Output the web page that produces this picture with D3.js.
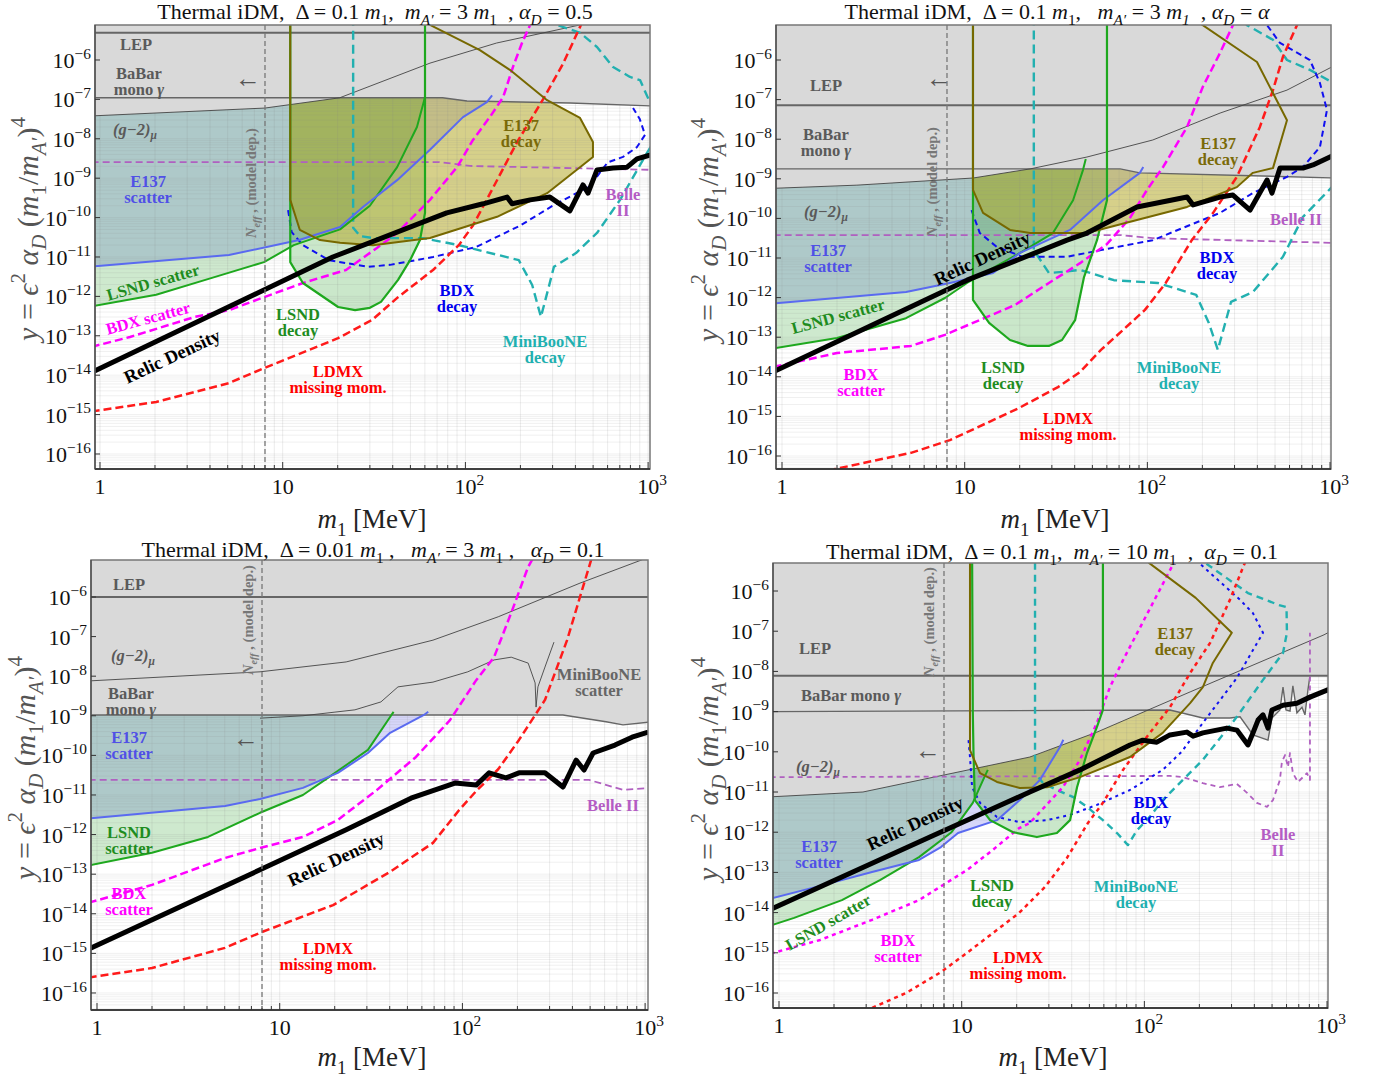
<!DOCTYPE html>
<html><head><meta charset="utf-8">
<script src="https://cdn.jsdelivr.net/npm/d3@7"></script>
<style>body{margin:0;background:#fff}svg{display:block}text{font-family:"Liberation Serif","Times New Roman",serif;white-space:pre}</style>
</head><body><svg id="c" width="1373" height="1078"></svg>
<script>
// ===== DATA: points are [m1 (MeV), log10(y)] =====
const xTickVals = [1, 10, 100, 1000];
const xTickLabels = ["1", "10", "10{sup:2}", "10{sup:3}"];
const yTickExps = [-16, -15, -14, -13, -12, -11, -10, -9, -8, -7, -6];
const nEffMass = 8;

// Panel 1: Delta=0.1 m1, mA'=3 m1, alphaD=0.5
const p1LEP = -5.31;
const p1BaBar = [[0.9,-6.96],[75,-6.96],[102,-7.04],[374,-7.09],[1100,-7.17]];
const p1G2 = [[0.9,-7.42],[8,-7.22],[20.5,-6.96],[64,-6.08],[148,-5.57],[424,-5.11],[600,-4.8]];
const p1Belle = [[0.9,-8.59],[72,-8.59],[106,-8.69],[1100,-8.79]];
const p1Relic = [[0.9,-13.93],[18.8,-11.0],[79,-9.88],[125,-9.65],[169,-9.48],[180,-9.65],[226,-9.55],[290,-9.48],[373,-9.83],[440,-9.17],[469,-9.38],[525,-8.79],[643,-8.74],[767,-8.72],[869,-8.51],[1030,-8.41]];
const p1LDMX = [[0.9,-14.92],[2.03,-14.68],[5.08,-14.2],[7.9,-13.82],[20.1,-13.06],[30.8,-12.6],[42.8,-12.02],[66.5,-11.33],[92,-10.7],[110,-10.2],[136,-9.4],[191,-8.1],[266,-7.0],[342,-6.1],[424,-5.16],[480,-4.6]];
const p1BDXscat = [[0.9,-13.28],[1.46,-13.03],[3.31,-12.52],[5.08,-12.35],[7.9,-12.02],[12.9,-11.66],[22.2,-11.33],[32.8,-10.77],[42.3,-10.39],[64,-9.55],[90,-8.72],[110,-8.03],[136,-7.45],[161,-6.94],[182,-6.18],[204,-5.57],[226,-5.11],[250,-4.6]];
const p1LSNDscat = [[0.9,-12.25],[2.03,-11.96],[4.1,-11.53],[7.9,-11.13],[11.5,-10.7],[20.6,-10.3],[30,-9.7],[42.3,-8.72],[54.3,-7.7],[60,-6.96]];
const p1E137scat = [[0.9,-11.24],[5.08,-10.95],[12.3,-10.57],[20.6,-10.24],[27.5,-9.73],[42.3,-9.05],[64,-8.28],[97,-7.45],[131,-7.07],[140,-6.9]];
const p1LSNDdecay = [[11,-4.9],[11,-11.13],[12.9,-11.66],[20.1,-12.27],[24.9,-12.35],[30,-12.29],[34.5,-12.14],[42.8,-11.58],[49.8,-11.08],[56.4,-10.57],[60.1,-9.88],[60.1,-4.9]];
const p1E137decay = [[11,-4.9],[11,-9.55],[12.4,-10.31],[16,-10.57],[20.6,-10.64],[31.2,-10.7],[64,-10.52],[149,-9.98],[280,-9.38],[499,-8.46],[499,-8.08],[424,-7.47],[280,-7.02],[175,-6.25],[120,-5.75],[64,-5.11],[55,-4.9]];
const p1BDXdecay = [[10.7,-9.81],[11.2,-10.37],[12.9,-10.7],[17.9,-11.08],[29.3,-11.25],[38.7,-11.2],[66.5,-11.0],[114,-10.75],[200,-10.2],[300,-9.7],[480,-9.2],[600,-8.6],[729,-8.46],[869,-8.21],[962,-7.9],[900,-7.5],[827,-7.22]];
const p1MBdecay = [[24.3,-4.9],[24.3,-10.26],[26.5,-10.47],[31.2,-10.52],[58.6,-10.52],[92,-10.7],[196,-11.08],[232,-11.71],[259,-12.52],[283,-11.84],[305,-11.25],[403,-10.9],[525,-10.39],[702,-9.55],[986,-8.36],[1500,-7.0],[1011,-7.02],[903,-6.51],[796,-6.43],[643,-6.18],[525,-5.67],[424,-5.31],[317,-5.11],[290,-4.9]];

// Panel 2: Delta=0.1 m1, mA'=3 m1, alphaD=alpha
const p2LEP = -7.14;
const p2BaBar = [[0.9,-8.75],[71,-8.75],[91,-8.85],[1100,-8.98]];
const p2G2 = [[0.9,-9.24],[2.57,-9.16],[11.1,-8.98],[22.8,-8.75],[46.7,-8.45],[107,-8.02],[250,-7.34],[581,-6.76],[1100,-6.1]];
const p2Belle = [[0.9,-10.42],[71,-10.42],[107,-10.5],[1100,-10.62]];
const p2Relic = [[0.9,-13.87],[10.3,-11.56],[36.3,-10.55],[46.7,-10.37],[87.7,-9.71],[165,-9.46],[178,-9.66],[250,-9.46],[294,-9.41],[365,-9.79],[452,-9.03],[481,-9.36],[532,-8.73],[711,-8.73],[806,-8.65],[1030,-8.42]];
const p2LDMX = [[1.6,-16.6],[1.95,-16.33],[5.08,-15.92],[8.3,-15.6],[19.8,-14.79],[32.4,-14.26],[42.8,-13.88],[55.7,-13.32],[73.5,-12.82],[97,-12.31],[126,-11.63],[175,-10.55],[229,-9.86],[309,-8.95],[413,-7.69],[487,-6.76],[552,-5.92],[659,-5.12],[700,-4.9]];
const p2BDXscat = [[0.9,-13.75],[2,-13.4],[5.08,-13.22],[7.8,-12.94],[18.8,-12.19],[28.9,-11.63],[42.8,-11.13],[60,-10.65],[80,-10.0],[99.5,-9.28],[122,-8.7],[165,-7.69],[201,-6.68],[250,-5.82],[294,-5.12],[320,-4.8]];
const p2LSNDscat = [[0.9,-13.28],[2,-13.02],[4.77,-12.52],[7.8,-12.01],[10.3,-11.63],[13.7,-11.3],[20.1,-10.87],[30.4,-10.37],[39.2,-9.54],[44.4,-8.78],[46,-8.5]];
const p2E137scat = [[0.9,-12.15],[4.77,-11.86],[8.3,-11.63],[14.3,-11.38],[20.1,-10.87],[37.7,-10.29],[57.1,-9.54],[91,-8.85],[95,-8.7]];
const p2LSNDdecay = [[11.1,-4.9],[11.1,-12.06],[13.6,-12.64],[17.7,-13.07],[22.2,-13.22],[28.9,-13.22],[34.1,-13.07],[40.2,-12.57],[45,-11.48],[53,-10.55],[60.1,-9.54],[60.1,-4.9]];
const p2E137decay = [[11.1,-4.9],[11.1,-9.28],[12.6,-9.86],[17.7,-10.29],[22.8,-10.37],[46.7,-10.37],[87.7,-10.04],[165,-9.71],[309,-9.21],[378,-8.85],[487,-8.73],[581,-7.52],[398,-6.05],[201,-5.12],[170,-4.9]];
const p2BDXdecay = [[10.9,-9.79],[12.1,-10.37],[15,-10.72],[20.8,-10.97],[36.3,-10.97],[55.7,-10.8],[107,-10.55],[250,-9.86],[378,-9.36],[581,-8.95],[711,-8.7],[880,-8.2],[962,-7.26],[880,-6.58],[776,-6.0],[532,-5.57],[452,-5.12],[420,-4.9]];
const p2MBdecay = [[23.9,-4.9],[23.9,-10.8],[28.9,-11.38],[34.1,-11.35],[42.8,-11.3],[65.6,-11.56],[114,-11.63],[185,-11.93],[217,-12.64],[243,-13.32],[287,-12.11],[378,-11.86],[552,-10.97],[711,-9.96],[1023,-9.21],[1900,-8.0],[1100,-6.6],[1023,-6.56],[776,-6.25],[581,-6.0],[487,-5.49],[351,-5.12],[320,-4.9]];

// Panel 3: Delta=0.01 m1, mA'=3 m1, alphaD=0.1
const p3LEP = -6.0;
const p3BaBar = [[0.9,-8.98],[355,-8.98],[611,-9.15],[757,-9.23],[1100,-9.15]];
const p3G2 = [[0.9,-8.12],[7.8,-7.89],[23.1,-7.64],[69,-7.09],[157,-6.5],[440,-5.65],[950,-5.07],[1100,-4.95]];
const p3MBscat = [[7.8,-9.06],[13.4,-9.0],[25.8,-8.85],[35.8,-8.65],[44.4,-8.27],[69,-8.15],[107,-7.89],[149,-7.59],[185,-7.52],[229,-7.67],[250,-8.17],[253,-8.78],[259,-8.27],[283,-7.77],[317,-7.14]];
const p3Belle = [[0.9,-10.62],[493,-10.62],[757,-10.87],[1100,-10.82]];
const p3Relic = [[0.9,-14.89],[7.8,-12.89],[23.1,-11.88],[52.3,-11.08],[91,-10.7],[119,-10.75],[140,-10.44],[173,-10.57],[204,-10.44],[283,-10.44],[355,-10.8],[419,-10.12],[463,-10.37],[519,-9.94],[684,-9.74],[848,-9.54],[1040,-9.41]];
const p3LDMX = [[0.9,-15.61],[2,-15.37],[5.02,-14.86],[7.8,-14.48],[19.6,-13.78],[40.2,-12.94],[69,-12.21],[96,-11.38],[119,-10.9],[157,-10.35],[204,-9.61],[283,-8.6],[374,-7.09],[440,-6.0],[506,-5.07],[540,-4.8]];
const p3BDXscat = [[0.9,-13.72],[2,-13.27],[5.02,-12.59],[7.8,-12.34],[13.4,-12.06],[20.8,-11.63],[34.1,-10.87],[55.7,-10.04],[85.5,-9.11],[119,-8.1],[149,-7.52],[185,-6.4],[229,-5.24],[240,-5.07],[260,-4.8]];
const p3LSNDscat = [[0.9,-12.78],[2,-12.46],[4.05,-12.06],[7.8,-11.45],[13.4,-11.0],[18.6,-10.55],[30.4,-9.86],[40.2,-9.03],[42,-8.9]];
const p3E137scat = [[0.9,-11.59],[5.02,-11.28],[7.8,-11.1],[13.4,-10.82],[20.8,-10.44],[30.4,-9.94],[40.2,-9.43],[61.6,-8.98],[65,-8.9]];

// Panel 4: Delta=0.1 m1, mA'=10 m1, alphaD=0.1
const p4LEP = -8.11;
const p4BaBar = [[0.9,-9.0],[138,-8.96],[209,-9.16],[294,-9.16],[334,-9.13],[393,-9.58],[475,-9.71],[499,-9.16],[552,-8.96],[574,-8.39],[596,-8.96],[627,-8.99],[650,-8.36],[684,-9.03],[729,-8.89],[757,-9.08],[786,-8.46],[806,-8.11]];
const p4G2 = [[0.9,-11.12],[2.88,-11.0],[6.7,-10.65],[23.6,-10.13],[55,-9.51],[178,-8.51],[962,-7.09],[1100,-6.95]];
const p4Belle = [[0.9,-10.63],[138,-10.6],[163,-10.63],[209,-10.78],[259,-10.88],[321,-10.8],[365,-11.02],[413,-11.27],[469,-11.37],[506,-11.2],[552,-10.7],[566,-10.25],[589,-10.08],[611,-10.38],[627,-10.03],[650,-10.53],[693,-10.75],[738,-10.63],[776,-10.53],[806,-10.7],[806,-7.04]];
const p4Relic = [[0.9,-13.92],[6.7,-12.12],[23.6,-11.0],[44.4,-10.45],[83.4,-9.83],[98,-9.71],[117,-9.76],[138,-9.58],[171,-9.51],[185,-9.61],[209,-9.53],[283,-9.41],[321,-9.46],[369,-9.83],[393,-9.53],[419,-9.21],[446,-9.08],[475,-9.41],[499,-8.96],[574,-8.84],[684,-8.79],[806,-8.64],[1030,-8.44]];
const p4LDMX = [[3.0,-16.5],[3.23,-16.37],[4.96,-16.0],[7.7,-15.48],[10.7,-15.0],[14.8,-14.51],[20.6,-14.01],[28.6,-13.36],[37.7,-12.64],[49.1,-11.77],[59.3,-11.27],[76.4,-10.45],[103,-9.63],[138,-8.89],[178,-8.04],[229,-7.29],[294,-6.22],[351,-5.35],[380,-5.0]];
const p4BDXscat = [[0.9,-15.02],[1.68,-14.68],[3.23,-14.18],[5.84,-13.69],[10.7,-12.94],[14.8,-12.44],[20.6,-11.9],[23.6,-11.77],[35.8,-10.88],[44.4,-10.2],[55,-9.28],[64.8,-8.39],[76.4,-7.72],[143,-5.35],[155,-5.0]];
const p4LSNDscat = [[0.9,-14.32],[1.21,-14.13],[2.21,-13.69],[3.57,-13.19],[5.84,-12.62],[8.8,-12.0],[11.5,-11.27],[13.1,-10.7],[13.9,-10.45]];
const p4E137scat = [[0.9,-13.65],[1.6,-13.36],[3.23,-12.99],[5.84,-12.69],[7.7,-12.37],[9.55,-12.02],[15.6,-11.7],[20.8,-11.2],[26.8,-10.7],[34.5,-9.88],[36,-9.7]];
const p4LSNDdecay = [[11.4,-5.0],[11.5,-9.0],[11.6,-10.0],[11.8,-11.2],[14.3,-11.7],[19.1,-12.0],[25.8,-12.12],[33.2,-12.02],[39.2,-11.7],[42.8,-10.88],[48.5,-10.03],[55,-9.38],[59.3,-8.96],[59.3,-5.0]];
const p4E137decay = [[11.1,-5.0],[11.1,-9.96],[12.6,-10.53],[15.6,-10.75],[20.8,-10.9],[29.3,-10.88],[44.4,-10.63],[83.4,-10.13],[126,-9.53],[178,-8.79],[209,-8.39],[237,-7.79],[301,-7.04],[191,-6.17],[106,-5.3],[95,-5.0]];
const p4BDXdecay = [[10.9,-9.71],[11.1,-10.13],[11.4,-10.88],[12.6,-11.27],[15.6,-11.62],[20.8,-11.75],[29.3,-11.7],[39.2,-11.57],[55,-11.32],[83.4,-10.95],[126,-10.45],[160,-10.0],[209,-9.28],[321,-8.16],[446,-7.04],[393,-6.55],[334,-6.22],[199,-5.3],[185,-5.0]];
const p4MBdecay = [[25.2,-5.0],[25.2,-10.53],[27.9,-10.78],[33.2,-10.95],[40.6,-11.12],[48.5,-11.37],[59.3,-11.7],[70.8,-12.02],[81.3,-12.32],[91.2,-11.95],[107,-11.62],[126,-11.2],[138,-11.02],[209,-10.2],[321,-9.13],[446,-8.21],[574,-7.54],[603,-7.04],[600,-6.4],[546,-6.35],[369,-6.05],[215,-5.3],[190,-5.0]];

// ===== STYLE / LAYOUT =====
const COL = {gray:'#5a5a5a', e137:'#5050e6', lsnd:'#1e8c1e', bdxs:'#ff00ff', ldmx:'#ff0000', bdxd:'#0000ee', mb:'#1fb0b0', e137d:'#7a6a08', belle:'#b45cc4'};
const LCOL = {e137:'#5a6af0', lsnd:'#1ea81e', e137d:'#776800', mb:'#22b0b0', bdxd:'#1010f0', belle:'#b060c0'};

// label: [text (\n = new line), dx, dy (centre, relative to plot top-left), colour, rotation, size]
const panels = [
 {box:[95,650,25,469], xdom:[0.939,1024], ydom:[-16.381,-5.112], lep:p1LEP, babar:p1BaBar, g2:p1G2, belle:p1Belle, relic:p1Relic, ldmx:p1LDMX, bdxs:p1BDXscat, lsnds:p1LSNDscat, e137s:p1E137scat, lsndd:p1LSNDdecay, e137d:p1E137decay, bdxd:p1BDXdecay, mbd:p1MBdecay, dotted:false,
  title:"Thermal iDM,  Δ = 0.1 {i:m}{sub:1},  {i:m}{isub:A′} = 3 {i:m}{sub:1}  , {i:α}{isub:D} = 0.5", tpos:[375,19], ypos:[27,229], xpos:[372,528], ytx:91,
  labels:[["LEP",41,19,COL.gray],["BaBar\nmono {i:γ}",44,56,COL.gray],["{i:(g−2)}{isub:μ}",40,104,COL.gray],
   ["E137\nscatter",53,164,COL.e137],["LSND scatter",58,257,COL.lsnd,-16],["BDX scatter",53,293,COL.bdxs,-15],["Relic Density",77,331,'#000',-25,18.5],
   ["LSND\ndecay",203,297,COL.lsnd],["LDMX\nmissing mom.",243,354,COL.ldmx],["BDX\ndecay",362,273,COL.bdxd],
   ["MiniBooNE\ndecay",450,324,COL.mb],["E137\ndecay",426,108,COL.e137d],["Belle\nII",528,177,COL.belle]],
  arrow:[153,53], neff:[161,158]},
 {box:[776,1331,25,469], xdom:[0.927,1012], ydom:[-16.328,-5.116], lep:p2LEP, babar:p2BaBar, g2:p2G2, belle:p2Belle, relic:p2Relic, ldmx:p2LDMX, bdxs:p2BDXscat, lsnds:p2LSNDscat, e137s:p2E137scat, lsndd:p2LSNDdecay, e137d:p2E137decay, bdxd:p2BDXdecay, mbd:p2MBdecay, dotted:false,
  title:"Thermal iDM,  Δ = 0.1 {i:m}{sub:1},   {i:m}{isub:A′} = 3 {i:m}{isub:1}  , {i:α}{isub:D} = {i:α}", tpos:[1057,19], ypos:[707,230], xpos:[1055,528], ytx:772,
  labels:[["LEP",50,60,COL.gray],["BaBar\nmono {i:γ}",50,117,COL.gray],["{i:(g−2)}{isub:μ}",50,186,COL.gray],
   ["E137\nscatter",52,233,COL.e137],["LSND scatter",62,291,COL.lsnd,-15],["Relic Density",206,233,'#000',-25,18.5],["BDX\nscatter",85,357,COL.bdxs],
   ["LSND\ndecay",227,350,COL.lsnd],["LDMX\nmissing mom.",292,401,COL.ldmx],["BDX\ndecay",441,240,COL.bdxd],
   ["MiniBooNE\ndecay",403,350,COL.mb],["E137\ndecay",442,126,COL.e137d],["Belle II",520,194,COL.belle]],
  arrow:[163,53], neff:[161,157]},
 {box:[91,648,560,1010], xdom:[0.927,1037], ydom:[-16.43,-5.066], lep:p3LEP, babar:p3BaBar, g2:p3G2, mbs:p3MBscat, belle:p3Belle, relic:p3Relic, ldmx:p3LDMX, bdxs:p3BDXscat, lsnds:p3LSNDscat, e137s:p3E137scat, dotted:false,
  title:"Thermal iDM,  Δ = 0.01 {i:m}{sub:1} ,   {i:m}{isub:A′} = 3 {i:m}{sub:1} ,   {i:α}{isub:D} = 0.1", tpos:[373,557], ypos:[24,768], xpos:[372,1066], ytx:87,
  labels:[["LEP",38,24,COL.gray],["{i:(g−2)}{isub:μ}",42,95,COL.gray],["BaBar\nmono {i:γ}",40,141,COL.gray],
   ["E137\nscatter",38,185,COL.e137],["LSND\nscatter",38,280,COL.lsnd],["BDX\nscatter",38,341,COL.bdxs],
   ["Relic Density",245,299,'#000',-25,18.5],["LDMX\nmissing mom.",237,396,COL.ldmx],["MiniBooNE\nscatter",508,122,'#666'],["Belle II",522,245,COL.belle]],
  arrow:[155,178], neff:[162,60]},
 {box:[773,1328,563,1008], xdom:[0.927,1012], ydom:[-16.373,-5.303], lep:p4LEP, babar:p4BaBar, g2:p4G2, belle:p4Belle, relic:p4Relic, ldmx:p4LDMX, bdxs:p4BDXscat, lsnds:p4LSNDscat, e137s:p4E137scat, lsndd:p4LSNDdecay, e137d:p4E137decay, bdxd:p4BDXdecay, mbd:p4MBdecay, dotted:true,
  title:"Thermal iDM,  Δ = 0.1 {i:m}{sub:1},  {i:m}{isub:A′} = 10 {i:m}{sub:1}  ,  {i:α}{isub:D} = 0.1", tpos:[1052,559], ypos:[707,769], xpos:[1053,1066], ytx:769,
  labels:[["LEP",42,85,COL.gray],["BaBar mono {i:γ}",78,132,COL.gray],["{i:(g−2)}{isub:μ}",45,203,COL.gray],["E137\nscatter",46,291,COL.e137],
   ["Relic Density",142,260,'#000',-25,18.5],["LSND scatter",55,359,COL.lsnd,-30],["BDX\nscatter",125,385,COL.bdxs],["LSND\ndecay",219,330,COL.lsnd],
   ["LDMX\nmissing mom.",245,402,COL.ldmx],["BDX\ndecay",378,247,COL.bdxd],["MiniBooNE\ndecay",363,331,COL.mb],
   ["E137\ndecay",402,78,COL.e137d],["Belle\nII",505,279,COL.belle]],
  arrow:[155,187], neff:[161,59]}
];

const svg = d3.select('#c');

function rich(t, str, base){
  const re=/\{(\w+):([^}]*)\}/g; let last=0, m, shift=0;
  const add=(s,kind)=>{ if(!s) return; const ts=t.append('tspan').text(s);
    let target=0;
    if(kind==='sub'||kind==='isub') target=0.28*base;
    if(kind==='sup') target=-0.42*base;
    if(target!==shift){ ts.attr('dy', target-shift); shift=target; }
    if(kind==='sub'||kind==='isub'||kind==='sup') ts.attr('font-size', base*0.7);
    if(kind==='i'||kind==='isub') ts.attr('font-style','italic');
  };
  while((m=re.exec(str))){ add(str.slice(last,m.index),'n'); add(m[2],m[1]); last=re.lastIndex; }
  add(str.slice(last),'n');
  return shift;
}

function interpL(curve, m){
  if(m <= curve[0][0]) return curve[0][1];
  const lm=Math.log10(m);
  for(let i=1;i<curve.length;i++){
    if(m<=curve[i][0]){
      const a=Math.log10(curve[i-1][0]), b=Math.log10(curve[i][0]);
      const f = b===a?1:(lm-a)/(b-a);
      return curve[i-1][1]+f*(curve[i][1]-curve[i-1][1]);
    }
  }
  return Infinity;
}

panels.forEach((p,pi)=>{
  const [L,R,T,B]=p.box;
  const x=d3.scaleLog().domain(p.xdom).range([L,R]);
  const y=d3.scaleLog().domain([10**p.ydom[0],10**p.ydom[1]]).range([B,T]);
  const topL=p.ydom[1]+0.6;
  const g=svg.append('g');
  const cid='clip'+pi;
  svg.append('clipPath').attr('id',cid).append('rect').attr('x',L).attr('y',T).attr('width',R-L).attr('height',B-T);
  const pl=g.append('g').attr('clip-path',`url(#${cid})`);
  const line=d3.line().x(d=>x(d[0])).y(d=>y(10**d[1]));
  const dashes = p.dotted ? {ldmx:'4,4', bdxs:'4,4', bdxd:'3,4', mb:'7,5', belle:'5,4'} : {ldmx:'8,4', bdxs:'8,4', bdxd:'6,4', mb:'9,5', belle:'7,4'};

  // fills
  const upFill=(c)=>[[c[0][0],topL],...c,[c[c.length-1][0],topL]];
  pl.append('path').attr('d',line(upFill(p.e137s))+'Z').attr('fill','#6b6bea').attr('fill-opacity',0.28);
  pl.append('path').attr('d',line(upFill(p.lsnds))+'Z').attr('fill','#2aa02a').attr('fill-opacity',0.23);
  if(p.lsndd) pl.append('path').attr('d',line(p.lsndd)+'Z').attr('fill','#2aa02a').attr('fill-opacity',0.25);
  if(p.e137d) pl.append('path').attr('d',line(p.e137d)+'Z').attr('fill','#b5aa2a').attr('fill-opacity',0.55);

  // grid
  const gx=[], gy=[];
  for(let d=-1; d<=3; d++) for(let k=1;k<=9;k++){ const v=k*10**d; if(v>p.xdom[0]&&v<p.xdom[1]) gx.push(v); }
  for(let e=-17; e<=-5; e++) for(let k=1;k<=9;k++){ const v=k*10**e; if(v>10**p.ydom[0]&&v<10**p.ydom[1]) gy.push(v); }
  pl.selectAll(null).data(gx).join('line').attr('x1',d=>x(d)).attr('x2',d=>x(d)).attr('y1',T).attr('y2',B).attr('stroke','#888').attr('stroke-opacity',0.16).attr('stroke-width',1);
  pl.selectAll(null).data(gy).join('line').attr('y1',d=>y(d)).attr('y2',d=>y(d)).attr('x1',L).attr('x2',R).attr('stroke','#888').attr('stroke-opacity',0.13).attr('stroke-width',1);

  // gray excluded region: above the lower envelope of LEP, BaBar and (g-2)
  let ms=d3.range(0,401).map(i=>10**(Math.log10(p.xdom[0])+i/400*(Math.log10(p.xdom[1])-Math.log10(p.xdom[0]))));
  [p.babar,p.g2].forEach(c=>c.forEach(d=>{ if(d[0]>p.xdom[0]&&d[0]<p.xdom[1]) ms.push(d[0], d[0]*1.0005); }));
  ms.sort((a,b)=>a-b);
  const env=ms.map(m=>[m, Math.min(p.lep, interpL(p.babar,m), interpL(p.g2,m))]);
  pl.append('path').datum(env).attr('d',d3.area().x(d=>x(d[0])).y0(T-2).y1(d=>y(10**d[1]))).attr('fill','#d9d9d9');
  pl.append('line').attr('x1',L).attr('x2',R).attr('y1',y(10**p.lep)).attr('y2',y(10**p.lep)).attr('stroke','#666').attr('stroke-width',2);
  pl.append('path').attr('d',line(p.babar)).attr('fill','none').attr('stroke','#666').attr('stroke-width',1.4);
  pl.append('path').attr('d',line(p.g2)).attr('fill','none').attr('stroke','#444').attr('stroke-width',0.9);
  if(p.mbs) pl.append('path').attr('d',line(p.mbs)).attr('fill','none').attr('stroke','#444').attr('stroke-width',0.9);

  // lines
  const draw=(data,color,w,dash)=>{ if(!data) return; const pa=pl.append('path').attr('d',line(data)).attr('fill','none').attr('stroke',color).attr('stroke-width',w).attr('stroke-linejoin','round'); if(dash) pa.attr('stroke-dasharray',dash); };
  draw(p.belle,LCOL.belle,1.8,dashes.belle);
  draw(p.mbd,LCOL.mb,2.4,dashes.mb);
  draw(p.bdxd,LCOL.bdxd,2,dashes.bdxd);
  draw(p.ldmx,'#ff1a1a',2.5,dashes.ldmx);
  draw(p.bdxs,'#ff00ff',2.5,dashes.bdxs);
  draw(p.lsnds,LCOL.lsnd,2,null);
  draw(p.e137s,LCOL.e137,2,null);
  draw(p.lsndd,LCOL.lsnd,2.2,null);
  draw(p.e137d,LCOL.e137d,2,null);
  draw(p.relic,'#000',5,null);
  // N_eff
  pl.append('line').attr('x1',x(nEffMass)).attr('x2',x(nEffMass)).attr('y1',T).attr('y2',B).attr('stroke','#777').attr('stroke-width',1.3).attr('stroke-dasharray','5,3');

  // frame & ticks
  g.append('rect').attr('x',L).attr('y',T).attr('width',R-L).attr('height',B-T).attr('fill','none').attr('stroke','#777').attr('stroke-width',1.5);
  g.append('line').attr('x1',L).attr('x2',R).attr('y1',B).attr('y2',B).attr('stroke','#222').attr('stroke-width',1.6);
  g.append('line').attr('x1',L).attr('x2',L).attr('y1',T).attr('y2',B).attr('stroke','#444').attr('stroke-width',1.2);
  g.selectAll(null).data(gx).join('line').attr('x1',d=>x(d)).attr('x2',d=>x(d)).attr('y1',B).attr('y2',d=>B-(xTickVals.includes(d)?7:4)).attr('stroke','#333');
  g.selectAll(null).data(yTickExps).join('line').attr('x1',L).attr('x2',L+5).attr('y1',d=>y(10**d)).attr('y2',d=>y(10**d)).attr('stroke','#333');
  xTickVals.forEach((v,i)=>{ const t=g.append('text').attr('x',x(v)+(i<2?0:4)).attr('y',B+25).attr('text-anchor','middle').attr('font-size',22).attr('fill','#111'); rich(t,xTickLabels[i],22); });
  yTickExps.forEach(e=>{ const t=g.append('text').attr('x',p.ytx).attr('y',y(10**e)+8).attr('text-anchor','end').attr('font-size',22).attr('fill','#111'); rich(t,'10{sup:−'+(-e)+'}',22); });

  // titles
  const tt=g.append('text').attr('x',p.tpos[0]).attr('y',p.tpos[1]).attr('text-anchor','middle').attr('font-size',22).attr('fill','#111'); rich(tt,p.title,22);
  const xt=g.append('text').attr('x',p.xpos[0]).attr('y',p.xpos[1]).attr('text-anchor','middle').attr('font-size',27).attr('fill','#222'); rich(xt,'{i:m}{sub:1} [MeV]',27);
  const yt=g.append('text').attr('transform',`translate(${p.ypos[0]},${p.ypos[1]}) rotate(-90)`).attr('text-anchor','middle').attr('dy','0.35em').attr('font-size',30).attr('fill','#555'); rich(yt,'{i:y} = {i:ϵ}{sup:2} {i:α}{isub:D} ({i:m}{sub:1}/{i:m}{isub:A′}){sup:4}',30);

  // labels (multi-line labels are one text element with one tspan per line)
  p.labels.forEach(l=>{
    const fs=l[5]||16.5, lh=16.5;
    const lines=l[0].split('\n');
    const t=g.append('text').attr('transform',`translate(${L+l[1]},${T+l[2]}) rotate(${l[4]||0})`).attr('text-anchor','middle').attr('font-size',fs).attr('font-weight','bold').attr('fill',l[3]);
    let carry=0;
    lines.forEach((ln,i)=>{
      const base = i===0 ? (0.35*fs - (lines.length-1)*lh/2) : lh;
      const ts=t.append('tspan').attr('x',0).attr('dy',base-carry);
      carry = rich(ts,ln,fs);
    });
  });
  g.append('text').attr('x',L+p.arrow[0]).attr('y',T+p.arrow[1]).attr('dy','0.35em').attr('text-anchor','middle').attr('font-size',26).attr('fill','#555').text('←');
  const nt=g.append('text').attr('transform',`translate(${L+p.neff[0]},${T+p.neff[1]}) rotate(-90)`).attr('text-anchor','middle').attr('font-size',14.5).attr('font-weight','bold').attr('fill','#777');
  rich(nt,'{i:N}{isub:eff} , (model dep.)',14.5);
});
</script></body></html>
